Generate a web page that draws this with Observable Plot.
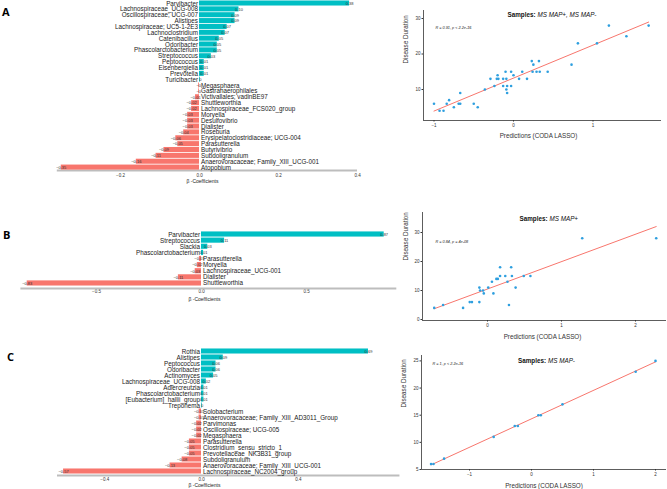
<!DOCTYPE html>
<html><head><meta charset="utf-8">
<script src="https://cdn.jsdelivr.net/npm/d3@7"></script>
<script src="https://cdn.jsdelivr.net/npm/@observablehq/plot@0.6"></script>
<style>
body{margin:0;background:#fff;width:667px;height:489px;overflow:hidden;position:relative;font-family:"Liberation Sans",Arial,sans-serif;}
.panel{position:absolute;}
.letter{position:absolute;font:bold 11px "Open Sans","Liberation Sans",sans-serif;color:#000;line-height:1;}
svg{overflow:visible;}
</style></head><body>
<script>
// ---------- Panel A bars ----------
const namesA = ["Parvibacter","Lachnospiraceae_UCG-008","Oscillospiraceae; UCG-007","Alistipes","Lachnospiraceae; UC5-1-2E3","Lachnoclostridium","Catenibacillus","Odoribacter","Phascolarctobacterium","Streptococcus","Peptococcus","Eisenbergiella","Prevotella","Turicibacter","Megasphaera","Gastranaerophilales","Victivallales; vadinBE97","Shuttleworthia","Lachnospiraceae_FCS020_group","Moryella","Desulfovibrio","Dialister","Roseburia","Erysipelatoclostridiaceae; UCG-004","Parasutterella","Butyrivibrio","Subdoligranulum","Anaerovoracaceae; Family_XIII_UCG-001","Atopobium"];
const coefA = [0.38,0.10,0.09,0.09,0.07,0.065,0.05,0.045,0.045,0.03,0.012,0.012,0.012,0.002,-0.002,-0.002,-0.01,-0.02,-0.02,-0.03,-0.03,-0.03,-0.04,-0.06,-0.055,-0.09,-0.11,-0.16,-0.35];
const ticksA = [-0.2, 0, 0.2, 0.4];
// ---------- Panel B bars ----------
const namesB = ["Parvibacter","Streptococcus","Slackia","Phascolarctobacterium","Parasutterella","Moryella","Lachnospiraceae_UCG-001","Dialister","Shuttleworthia"];
const coefB = [0.87,0.11,0.03,0.01,-0.01,-0.02,-0.03,-0.11,-0.83];
const ticksB = [-0.5, 0, 0.5];
// ---------- Panel C bars ----------
const namesC = ["Rothia","Alistipes","Peptococcus","Odoribacter","Actinomyces","Lachnospiraceae_UCG-008","Adlercreutzia","Phascolarctobacterium","[Eubacterium]_hallii_group","Treponema","Solobacterium","Anaerovoracaceae; Family_XIII_AD3011_Group","Parvimonas","Oscillospiraceae; UCG-005","Megasphaera","Parasutterella","Clostridium_sensu_stricto_1","Prevotellaceae_NK3B31_group","Subdoligranulum","Anaerovoracaceae; Family_XIII_UCG-001","Lachnospiraceae_NC2004_group"];
const coefC = [0.69,0.09,0.06,0.06,0.05,0.02,0.01,0.01,0.01,0.003,-0.01,-0.01,-0.02,-0.02,-0.02,-0.05,-0.05,-0.05,-0.08,-0.13,-0.57];
const ticksC = [-0.4, 0, 0.4];
const coefLabel = "β -Coefficients";

// ---------- Scatter data ----------
const predA = [-1.0,-0.93,-0.88,-0.84,-0.81,-0.75,-0.69,-0.67,-0.67,-0.50,-0.45,-0.36,-0.29,-0.24,-0.21,-0.20,-0.19,-0.13,-0.13,-0.10,-0.09,-0.09,-0.08,-0.08,-0.03,-0.03,0.0,0.07,0.11,0.17,0.23,0.25,0.24,0.29,0.32,0.33,0.43,0.73,0.81,1.05,1.20,1.42,1.70];
const durA  = [6,4,4,6,7,5,6,6,9,6,5,10,13,11,13,14,13,11,13,15,13,10,11,9,15,11,14,13,15,13,18,17,15,15,18,15,15,17,23,23,28,25,28];
const predB = [-0.72,-0.60,-0.33,-0.24,-0.21,-0.11,-0.11,-0.10,-0.06,-0.05,0.01,0.06,0.08,0.12,0.14,0.17,0.17,0.24,0.27,0.29,0.32,0.33,0.38,0.49,0.58,1.28,2.28];
const durB  = [4,5,4,6,6,6,11,10,10,9,11,13,9,14,14,18,15,15,13,5,18,15,11,15,15,28,28];
const predC = [-1.62,-1.58,-1.41,-0.61,-0.27,-0.22,0.11,0.15,0.50,1.68,2.0];
const durC  = [6,6,7,11,13,13,15,15,17,23,25];
const xTicksA = [-1,0,1], yTicksA = [10,20,30];
const xTicksB = [0,1,2], yTicksB = [0,10,20,30];
const xTicksC = [-1,0,1,2], yTicksC = [5,10,15,20,25];
const titleA = ["Samples:", "MS MAP+, MS MAP-"];
const titleB = ["Samples:", "MS MAP+"];
const titleC = ["Samples:", "MS MAP-"];
const statA = "R = 0.91, p < 2.2e-16";
const statB = "R = 0.84, p = 4e-08";
const statC = "R = 1, p < 2.2e-16";
const xLabel = "Predictions (CODA LASSO)";
const yLabel = "Disease Duration";

const TEAL = "#00BFC4", SALMON = "#F8766D", DOT = "#2E9FDF", LINE = "#F8766D";
const minus = s => s.replace("-", "−");

function place(el, left, top) {
  const d = document.createElement("div");
  d.className = "panel"; d.style.left = left + "px"; d.style.top = top + "px";
  d.appendChild(el); document.body.appendChild(d);
}
function letter(t, left, top) {
  const d = document.createElement("div");
  d.className = "letter"; d.textContent = t;
  d.style.left = left + "px"; d.style.top = top + "px";
  document.body.appendChild(d);
}

function coefChart(o) {
  const data = o.names.map((name, i) => ({name, coef: o.coefs[i], i}));
  const marginLeft = o.zeroX + o.xMin * o.ppu;
  const marginRight = o.width - (o.zeroX + o.xMax * o.ppu);
  const marginTop = o.rowTop - 0.5 * o.step - o.svgTop;
  const yBottom = (o.axisY - o.rowTop) / o.step;
  const marginBottom = o.height - (o.axisY - o.svgTop);
  const h = o.barFrac / 2;
  const fmtVal = v => { const r = Math.round(v * 100) / 100; if (r === 0) return v < 0 ? "−0" : "0"; return (v < 0 ? "−" : "") + Math.abs(r).toFixed(2); };
  const svg = Plot.plot({
    width: o.width, height: o.height, marginLeft, marginRight, marginTop, marginBottom,
    style: {fontSize: "4.5px", fontFamily: "Liberation Sans, Arial, sans-serif", color: "#333", background: "transparent"},
    x: {domain: [o.xMin, o.xMax], ticks: o.ticks, tickSize: 0, tickPadding: o.tickPad,
        tickFormat: d => d === 0 ? "0.0" : (d < 0 ? "−" : "") + Math.abs(d).toFixed(1), label: null},
    y: {domain: [-0.5, yBottom], reverse: true, axis: null},
    marks: [
      Plot.ruleY([yBottom], {stroke: "#bdbdbd", strokeWidth: 2}),
      Plot.rect(data.filter(d => d.coef >= 0), {x1: () => 0, x2: "coef", y1: d => d.i - h, y2: d => d.i + h, fill: TEAL}),
      Plot.rect(data.filter(d => d.coef < 0), {x1: () => 0, x2: "coef", y1: d => d.i - h, y2: d => d.i + h, fill: SALMON}),
      Plot.text(data.filter(d => d.coef >= 0), {x: () => 0, y: "i", text: "name", textAnchor: "end", dx: -1.5, fontSize: o.nameSize, fill: "#1a1a1a"}),
      Plot.text(data.filter(d => d.coef < 0), {x: () => 0, y: "i", text: "name", textAnchor: "start", dx: 1.5, fontSize: o.nameSize, fill: "#1a1a1a"}),
      Plot.text(data, {x: "coef", y: "i", text: d => fmtVal(d.coef), fontSize: 4, fill: "#333"}),
      Plot.text([coefLabel], {x: () => 0, frameAnchor: "bottom", lineAnchor: "middle", dy: o.titleDy, dx: 3, fontSize: 5, fill: "#222"})
    ]
  });
  place(svg, 0, o.svgTop);
}

function scatter(o) {
  const pts = o.xs.map((x, i) => ({x, y: o.ys[i]}));
  const x0 = (o.frameL - o.zeroX) / o.xppu, x1 = (o.frameR - o.zeroX) / o.xppu;
  const y0 = o.yRefVal - (o.frameB - o.yRefPx) / o.yppu, y1 = o.yRefVal + (o.yRefPx - o.frameT) / o.yppu;
  const svg = Plot.plot({
    width: o.width, height: o.height,
    marginLeft: o.frameL - o.left, marginRight: o.left + o.width - o.frameR,
    marginTop: o.frameT - o.top, marginBottom: o.top + o.height - o.frameB,
    style: {fontSize: "4.5px", fontFamily: "Liberation Sans, Arial, sans-serif", color: "#333", background: "transparent"},
    x: {domain: [x0, x1], ticks: o.xTicks, tickSize: 1.5, tickPadding: 1.5, label: null, tickFormat: d => minus(String(d))},
    y: {domain: [y0, y1], ticks: o.yTicks, tickSize: 1.5, tickPadding: 1.5, label: null, tickFormat: d => String(d)},
    marks: [
      Plot.ruleY([y0], {stroke: "#333", strokeWidth: 0.8}),
      Plot.ruleX([x0], {stroke: "#333", strokeWidth: 0.8}),
      Plot.linearRegressionY(pts, {x: "x", y: "y", stroke: LINE, strokeWidth: 1, ci: 0}),
      Plot.dot(pts, {x: "x", y: "y", r: 1.3, fill: DOT}),
      Plot.text([o.title[0]], {frameAnchor: "top", textAnchor: "end", lineAnchor: "middle", dx: o.titleDx, dy: o.titleDy, fontSize: 6.3, fontWeight: "bold", fill: "#111"}),
      Plot.text([o.title[1]], {frameAnchor: "top", textAnchor: "start", lineAnchor: "middle", dx: o.titleDx + 2, dy: o.titleDy, fontSize: 6.3, fontStyle: "italic", fill: "#111"}),
      Plot.text([o.stat], {frameAnchor: "top-left", textAnchor: "start", lineAnchor: "middle", dx: o.statDx, dy: o.statDy, fontSize: 3.8, fontStyle: "italic", fill: "#222"}),
      Plot.text([xLabel], {frameAnchor: "bottom", lineAnchor: "middle", dy: o.xlabDy, dx: o.xlabDx, fontSize: 6.3, fill: "#333"}),
      Plot.text([yLabel], {frameAnchor: "left", rotate: -90, dx: -o.ylabDx, dy: o.ylabDy, fontSize: 6.3, fill: "#333"})
    ]
  });
  place(svg, o.left, o.top);
}

coefChart({names: namesA, coefs: coefA, svgTop: -10, width: 400, height: 205, zeroX: 199, ppu: 395, xMin: -0.36, xMax: 0.40, ticks: ticksA,
  rowTop: 3, step: 5.86, axisY: 170, barFrac: 0.86, nameSize: 6.3, tickPad: 3.5, titleDy: 11});
coefChart({names: namesB, coefs: coefB, svgTop: 215, width: 420, height: 95, zeroX: 201, ppu: 210, xMin: -0.86, xMax: 0.93, ticks: ticksB,
  rowTop: 234, step: 6.12, axisY: 288, barFrac: 0.84, nameSize: 6.3, tickPad: 1.5, titleDy: 11});
coefChart({names: namesC, coefs: coefC, svgTop: 340, width: 420, height: 149, zeroX: 201, ppu: 242, xMin: -0.595, xMax: 0.82, ticks: ticksC,
  rowTop: 351, step: 6.0, axisY: 475, barFrac: 0.84, nameSize: 6.3, tickPad: 2, titleDy: 10});

scatter({xs: predA, ys: durA, left: 395, top: 0, width: 272, height: 145, frameL: 423, frameR: 661, frameT: 10, frameB: 120,
  zeroX: 513, xppu: 79.5, yRefVal: 30, yRefPx: 18, yppu: 3.55, xTicks: xTicksA, yTicks: yTicksA,
  title: titleA, titleDx: -7, titleDy: 4, stat: statA, statDx: 12, statDy: 17, xlabDy: 15, xlabDx: -4, ylabDx: 18, ylabDy: -2});
scatter({xs: predB, ys: durB, left: 395, top: 205, width: 272, height: 140, frameL: 422, frameR: 666, frameT: 212, frameB: 320,
  zeroX: 487, xppu: 74, yRefVal: 0, yRefPx: 319, yppu: 2.9, xTicks: xTicksB, yTicks: yTicksB,
  title: titleB, titleDx: 3, titleDy: 6, stat: statB, statDx: 13, statDy: 29, xlabDy: 16, xlabDx: -2, ylabDx: 17, ylabDy: -6});
scatter({xs: predC, ys: durC, left: 395, top: 345, width: 272, height: 144, frameL: 421, frameR: 666, frameT: 355, frameB: 469,
  zeroX: 531, xppu: 62, yRefVal: 5, yRefPx: 469, yppu: 5.43, xTicks: xTicksC, yTicks: yTicksC,
  title: titleC, titleDx: 2, titleDy: 5, stat: statC, statDx: 11, statDy: 8, xlabDy: 16, xlabDx: 0, ylabDx: 18, ylabDy: -5});

letter("A", 2, 6);
letter("B", 3, 229);
letter("C", 7, 351);
</script>
</body></html>
